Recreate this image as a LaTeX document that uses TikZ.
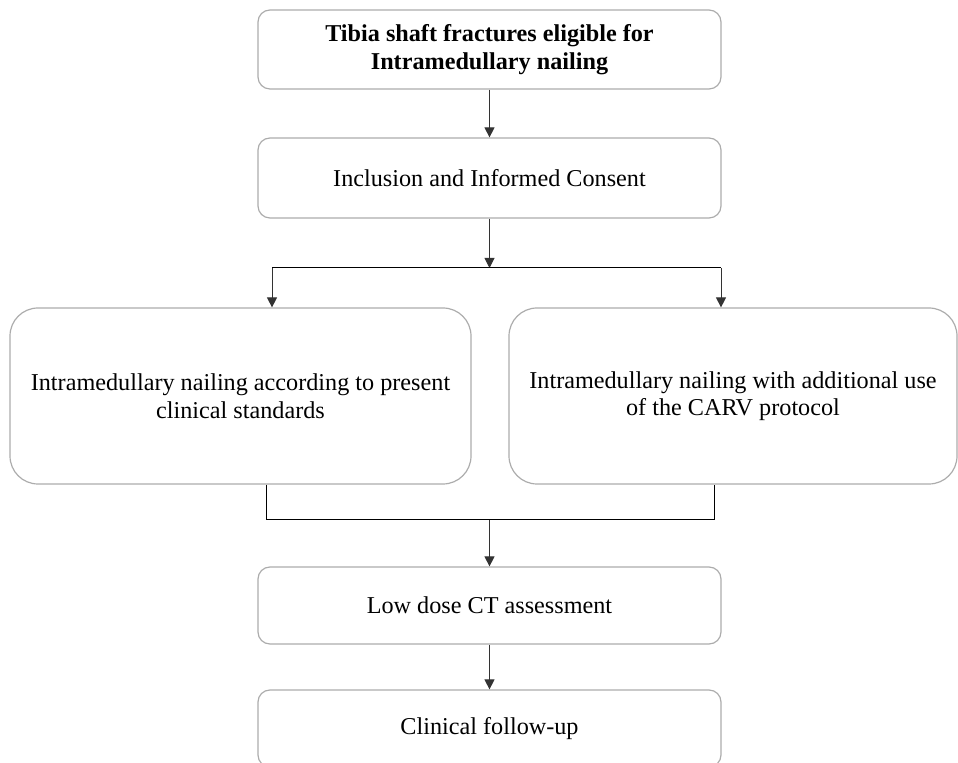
\documentclass[tikz,border=0pt]{standalone}
\usepackage{fontspec}
\setmainfont{Liberation Serif}
\usetikzlibrary{arrows.meta}

\tikzset{
  stepbox/.style={draw=gray!65,line width=0.6pt,rounded corners=6pt,align=center,
    inner sep=0pt,font=\fontsize{12.1}{13.8}\selectfont},
  armbox/.style={stepbox,rounded corners=14pt},
  arr/.style={-{Triangle[length=5pt,width=5pt]},black!80,line width=0.5pt},
  lnk/.style={black,line width=0.5pt}
}

\begin{document}
\begin{tikzpicture}[x=0.5pt,y=-0.5pt]
\useasboundingbox (0,0) rectangle (958,763);

%boxes, centred on pixel positions
\node[stepbox,minimum width=231.5pt,minimum height=39.5pt] (tibia) at (489.5,49.5)
  {\bfseries Tibia shaft fractures eligible for\\ \bfseries Intramedullary nailing};
\node[stepbox,minimum width=231.5pt,minimum height=40pt] (consent) at (489.5,178)
  {Inclusion and Informed Consent};

\node[armbox,minimum width=230.5pt,minimum height=88pt] (standard) at (240.5,396)
  {Intramedullary nailing according to present\\ clinical standards};
\node[armbox,minimum width=224pt,minimum height=88pt] (carv) at (733,396)
  {Intramedullary nailing with additional use\\ of the CARV protocol};

\node[stepbox,minimum width=231.5pt,minimum height=38.5pt] (ct) at (489.5,605.5)
  {Low dose CT assessment};
\node[stepbox,minimum width=231.5pt,minimum height=38.5pt] (follow) at (489.5,728.5)
  {Clinical follow-up};

%split
\coordinate (brL) at (272,268);
\coordinate (brR) at (721,268);
\draw[arr] (tibia) -- (consent);
\draw[arr] (consent.south) -- (consent.south |- brL);
\draw[lnk] (brL) -- (brR);
\draw[arr] (brL) -- (brL |- standard.north);
\draw[arr] (brR) -- (brR |- carv.north);

%join
\coordinate (jnL) at (266,520);
\coordinate (jnR) at (714,520);
\draw[lnk] (jnL |- standard.south) -- (jnL) -- (jnR) -- (jnR |- carv.south);
\draw[arr] (ct.north |- jnL) -- (ct.north);
\draw[arr] (ct) -- (follow);

\end{tikzpicture}
\end{document}
